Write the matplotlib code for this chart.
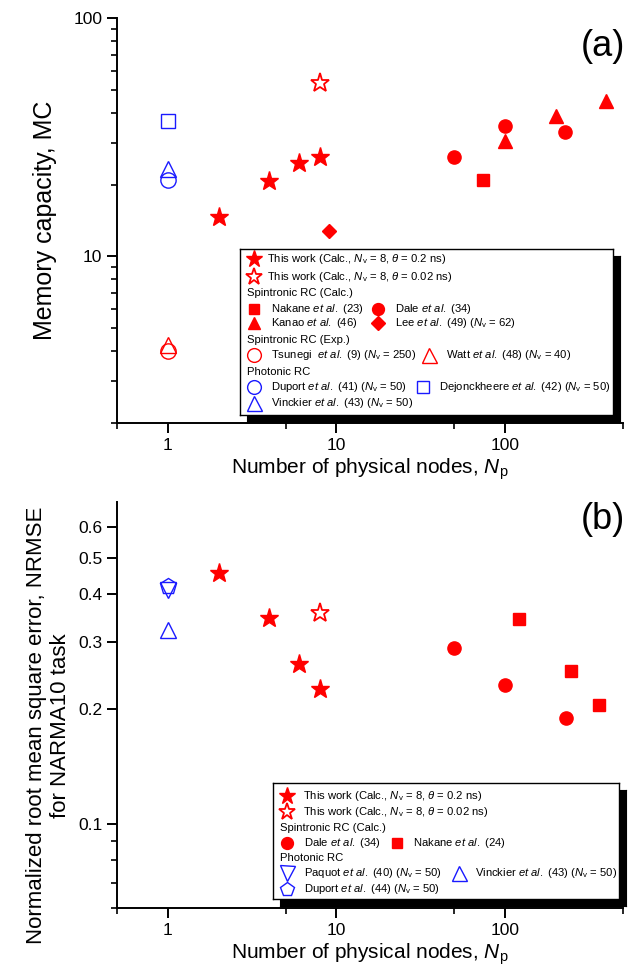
import numpy as np
import matplotlib
matplotlib.use('Agg')
import matplotlib.pyplot as plt
from matplotlib.ticker import FixedLocator, NullFormatter

plt.rcParams['font.family'] = ['Liberation Sans', 'DejaVu Sans']
plt.rcParams['mathtext.fontset'] = 'custom'
plt.rcParams['mathtext.rm'] = 'Liberation Sans'
plt.rcParams['mathtext.it'] = 'Liberation Sans:italic'

RED = '#ff0000'
BLUE = '#1a1aff'

# (a) memory capacity vs number of physical nodes
this_np = [2, 4, 6, 8]
this_mc = [14.6, 20.7, 24.6, 26.2]
this002_np = [8]
this002_mc = [53.5]
nakane_a_np = [74]
nakane_a_mc = [21.0]
dale_a_np = [50, 100, 225]
dale_a_mc = [26.2, 35.3, 33.3]
kanao_np = [100, 200, 395]
kanao_mc = [30.5, 38.8, 44.8]
lee_np = [9]
lee_mc = [12.8]
tsunegi_np = [1]
tsunegi_mc = [4.0]
watt_np = [1]
watt_mc = [4.25]
duport_a_np = [1]
duport_a_mc = [20.9]
dejonck_np = [1]
dejonck_mc = [37.1]
vinckier_a_np = [1]
vinckier_a_mc = [23.3]

# (b) NRMSE for NARMA10
this_nrmse = [0.455, 0.347, 0.262, 0.226]
this002_nrmse = [0.358]
dale_b_np = [50, 100, 230]
dale_b_nrmse = [0.290, 0.231, 0.190]
nakane_b_np = [121, 245, 360]
nakane_b_nrmse = [0.345, 0.251, 0.205]
paquot_np = [1]
paquot_nrmse = [0.41]
vinckier_b_np = [1]
vinckier_b_nrmse = [0.322]
duport_b_np = [1]
duport_b_nrmse = [0.422]

W, H = 633, 975
fig = plt.figure(figsize=(W / 100, H / 100), dpi=100)


def px_rect(x0, y0, x1, y1):
    return [x0 / W, 1 - y1 / H, (x1 - x0) / W, (y1 - y0) / H]


# marker styles
S = {
    'star': dict(marker='*', ms=14, color=RED, ls='none'),
    'star_open': dict(marker='*', ms=14, mfc='white', mec=RED, mew=1.3, ls='none'),
    'sq': dict(marker='s', ms=8, color=RED, ls='none'),
    'circ': dict(marker='o', ms=9.5, color=RED, ls='none'),
    'tri': dict(marker='^', ms=10, color=RED, ls='none'),
    'dia': dict(marker='D', ms=7.5, color=RED, ls='none'),
    'circ_r': dict(marker='o', ms=11, mfc='none', mec=RED, mew=1.0, ls='none'),
    'tri_r': dict(marker='^', ms=12, mfc='none', mec=RED, mew=1.0, ls='none'),
    'circ_b': dict(marker='o', ms=11, mfc='none', mec=BLUE, mew=1.0, ls='none'),
    'sq_b': dict(marker='s', ms=10, mfc='none', mec=BLUE, mew=1.0, ls='none'),
    'tri_b': dict(marker='^', ms=12, mfc='none', mec=BLUE, mew=1.0, ls='none'),
    'dtri_b': dict(marker='v', ms=12, mfc='none', mec=BLUE, mew=1.0, ls='none'),
    'pent_b': dict(marker='p', ms=12, mfc='none', mec=BLUE, mew=1.0, ls='none'),
}


def style_axes(ax):
    ax.set_xscale('log')
    ax.set_yscale('log')
    ax.set_xlim(0.5, 500)
    for s in ['top', 'right']:
        ax.spines[s].set_visible(False)
    for s in ['left', 'bottom']:
        ax.spines[s].set_linewidth(1.4)
    ax.tick_params(which='major', direction='out', length=7, width=1.4, labelsize=12.5)
    ax.tick_params(which='minor', direction='out', length=4, width=1.2)
    ax.xaxis.set_major_locator(FixedLocator([1, 10, 100]))
    ax.xaxis.set_minor_locator(FixedLocator([0.5, 5, 50, 500]))
    ax.xaxis.set_major_formatter(plt.FixedFormatter(['1', '10', '100']))
    ax.xaxis.set_minor_formatter(NullFormatter())
    ax.set_xlabel(r'Number of physical nodes, $N_\mathrm{p}$', fontsize=15, labelpad=3)


def draw_legend(rect, rows, shadow=7, fs=8.1):
    x0, y0, x1, y1 = rect
    sh = fig.add_axes(px_rect(x0 + shadow, y0 + shadow, x1 + shadow, y1 + shadow))
    sh.set_facecolor('black')
    sh.set_xticks([])
    sh.set_yticks([])
    lg = fig.add_axes(px_rect(x0, y0, x1, y1))
    lg.set_xlim(0, x1 - x0)
    lg.set_ylim(y1 - y0, 0)
    lg.set_xticks([])
    lg.set_yticks([])
    for sp in lg.spines.values():
        sp.set_linewidth(1.0)
    for y, items in rows:
        for kind, x, val in items:
            if kind == 'text':
                lg.text(x, y, val, fontsize=fs, va='center', ha='left')
            else:
                st = dict(S[val])
                st['ms'] = st['ms'] * 0.9
                lg.plot([x], [y], clip_on=False, **st)
    return lg


# ---------------- panel (a)
axa = fig.add_axes(px_rect(117, 18, 623, 423))
style_axes(axa)
axa.set_ylim(2, 100)
axa.yaxis.set_major_locator(FixedLocator([10, 100]))
axa.yaxis.set_major_formatter(plt.FixedFormatter(['10', '100']))
axa.yaxis.set_minor_locator(FixedLocator([2, 3, 4, 5, 6, 7, 8, 9, 20, 30, 40, 50, 60, 70, 80, 90]))
axa.yaxis.set_minor_formatter(NullFormatter())
axa.set_ylabel('Memory capacity, MC', fontsize=18)
axa.yaxis.set_label_coords(-0.119, 0.5)

axa.plot(this_np, this_mc, **S['star'])
axa.plot(this002_np, this002_mc, **S['star_open'])
axa.plot(nakane_a_np, nakane_a_mc, **S['sq'])
axa.plot(dale_a_np, dale_a_mc, **S['circ'])
axa.plot(kanao_np, kanao_mc, **S['tri'])
axa.plot(lee_np, lee_mc, **S['dia'])
axa.plot(tsunegi_np, tsunegi_mc, **S['circ_r'])
axa.plot(watt_np, watt_mc, **S['tri_r'])
axa.plot(duport_a_np, duport_a_mc, **S['circ_b'])
axa.plot(dejonck_np, dejonck_mc, **S['sq_b'])
axa.plot(vinckier_a_np, vinckier_a_mc, **S['tri_b'])
axa.text(1.004, 0.972, '(a)', transform=axa.transAxes, fontsize=26, ha='right', va='top')

etal = r'$\mathit{et\ al.}$'
nv = r'$N_\mathrm{v}$'
rows_a = [
    (10, [('m', 14, 'star'), ('text', 27, r'This work (Calc., ' + nv + r' = 8, $\mathit{\theta}$ = 0.2 ns)')]),
    (28, [('m', 14, 'star_open'), ('text', 27, r'This work (Calc., ' + nv + r' = 8, $\mathit{\theta}$ = 0.02 ns)')]),
    (44, [('text', 7, 'Spintronic RC (Calc.)')]),
    (60, [('m', 14, 'sq'), ('text', 31, 'Nakane ' + etal + ' (23)'),
          ('m', 138, 'circ'), ('text', 155, 'Dale ' + etal + ' (34)')]),
    (74, [('m', 14, 'tri'), ('text', 31, 'Kanao ' + etal + ' (46)'),
          ('m', 138, 'dia'), ('text', 155, 'Lee ' + etal + ' (49) (' + nv + ' = 62)')]),
    (91, [('text', 7, 'Spintronic RC (Exp.)')]),
    (106, [('m', 14, 'circ_r'), ('text', 31, 'Tsunegi  ' + etal + ' (9) (' + nv + ' = 250)'),
           ('m', 189, 'tri_r'), ('text', 206, 'Watt ' + etal + ' (48) (' + nv + ' = 40)')]),
    (123, [('text', 7, 'Photonic RC')]),
    (138, [('m', 14, 'circ_b'), ('text', 31, 'Duport ' + etal + ' (41) (' + nv + ' = 50)'),
           ('m', 183, 'sq_b'), ('text', 199, 'Dejonckheere ' + etal + ' (42) (' + nv + ' = 50)')]),
    (154, [('m', 14, 'tri_b'), ('text', 31, 'Vinckier ' + etal + ' (43) (' + nv + ' = 50)')]),
]
draw_legend((240, 249, 613, 415), rows_a)

# ---------------- panel (b)
axb = fig.add_axes(px_rect(117, 502, 623, 908))
style_axes(axb)
axb.set_ylim(0.06, 0.7)
axb.yaxis.set_major_locator(FixedLocator([0.1, 0.2, 0.3, 0.4, 0.5, 0.6]))
axb.yaxis.set_major_formatter(plt.FixedFormatter(['0.1', '0.2', '0.3', '0.4', '0.5', '0.6']))
axb.yaxis.set_minor_locator(FixedLocator([0.06, 0.07, 0.08, 0.09]))
axb.yaxis.set_minor_formatter(NullFormatter())
axb.set_ylabel('Normalized root mean square error, NRMSE\nfor NARMA10 task', fontsize=16, linespacing=1.2)
axb.yaxis.set_label_coords(-0.09, 0.45)

axb.plot(this_np, this_nrmse, **S['star'])
axb.plot(this002_np, this002_nrmse, **S['star_open'])
axb.plot(dale_b_np, dale_b_nrmse, **S['circ'])
axb.plot(nakane_b_np, nakane_b_nrmse, **S['sq'])
axb.plot(paquot_np, paquot_nrmse, **S['dtri_b'])
axb.plot(vinckier_b_np, vinckier_b_nrmse, **S['tri_b'])
axb.plot(duport_b_np, duport_b_nrmse, **S['pent_b'])
axb.text(1.004, 1.0, '(b)', transform=axb.transAxes, fontsize=26, ha='right', va='top')

rows_b = [
    (13, [('m', 14, 'star'), ('text', 30, r'This work (Calc., ' + nv + r' = 8, $\mathit{\theta}$ = 0.2 ns)')]),
    (29, [('m', 14, 'star_open'), ('text', 30, r'This work (Calc., ' + nv + r' = 8, $\mathit{\theta}$ = 0.02 ns)')]),
    (45, [('text', 7, 'Spintronic RC (Calc.)')]),
    (60, [('m', 14, 'circ'), ('text', 31, 'Dale ' + etal + ' (34)'),
          ('m', 124, 'sq'), ('text', 140, 'Nakane ' + etal + ' (24)')]),
    (75, [('text', 7, 'Photonic RC')]),
    (90, [('m', 14, 'dtri_b'), ('text', 31, 'Paquot ' + etal + ' (40) (' + nv + ' = 50)'),
          ('m', 186, 'tri_b'), ('text', 202, 'Vinckier ' + etal + ' (43) (' + nv + ' = 50)')]),
    (106, [('m', 14, 'pent_b'), ('text', 31, 'Duport ' + etal + ' (44) (' + nv + ' = 50)')]),
]
draw_legend((273, 783, 619, 899), rows_b)

fig.savefig('out.png', dpi=100)
